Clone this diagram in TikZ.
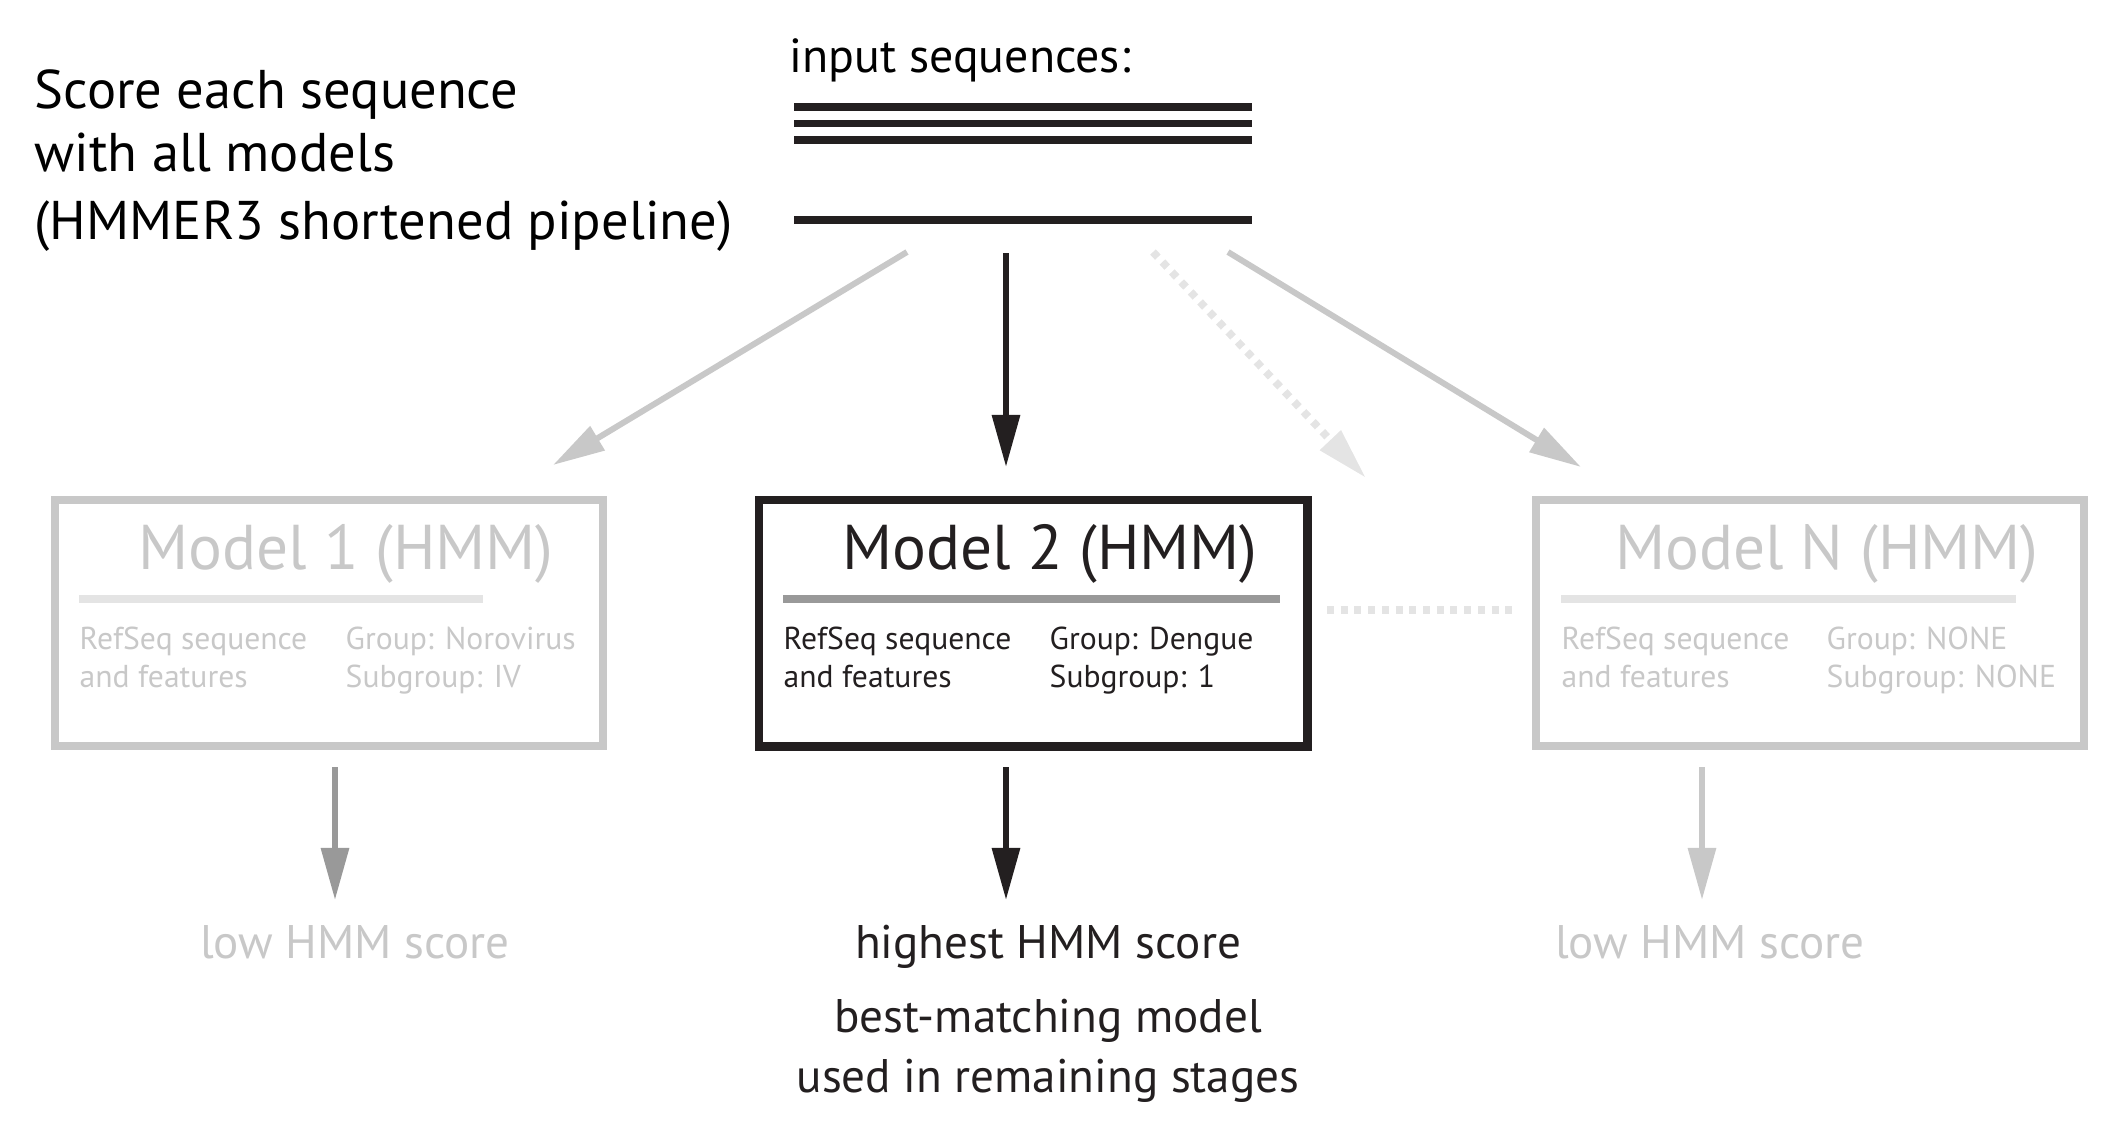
\documentclass[tikz,border=0pt]{standalone}
\usepackage{fontspec}
\setmainfont{PT Sans}
\usetikzlibrary{arrows.meta,positioning}

\definecolor{ink}{HTML}{231F20}
\definecolor{fade}{HTML}{C8C8C8}
\definecolor{faint}{HTML}{E4E4E4}
\definecolor{midgray}{HTML}{999999}

\begin{document}
\begin{tikzpicture}[x=0.01cm, y=-0.01cm,
	seqline/.style={line width=2pt, ink},
	arr/.style={line width=1.7pt, -{Triangle[length=14.8pt, width=7.7pt]}},
	dots/.style={dash pattern=on 2pt off 1.9pt, line width=2.2pt},
	modelbox/.style={draw, rectangle, inner sep=0pt, outer sep=0pt, minimum width=5.48cm, minimum height=2.46cm, anchor=north west},
	boxtitle/.style={anchor=base, inner sep=0pt, font=\fontsize{18}{21}\selectfont},
	boxtext/.style={anchor=base west, inner sep=0pt, align=left, font=\fontsize{9}{10.6}\selectfont},
	rule/.style={line width=2.2pt},
	result/.style={anchor=base, inner sep=0pt, align=center, font=\fontsize{13.4}{16.8}\selectfont}]
	\useasboundingbox (0,0) rectangle (2126,1132);
	\def\seqL{794};
	\def\seqR{1252};
	
	%heading and input (base = last line)
	\node [anchor=base west, inner sep=0pt, align=left, font=\fontsize{15.5}{17.9}\selectfont] (heading) at (34,239)
		{Score each sequence\\with all models\\[1.2pt](HMMER3 shortened pipeline)};
	\node [anchor=base west, inner sep=0pt, font=\fontsize{13.6}{16}\selectfont] (inseq) at (789,72) {input sequences:};
	\foreach \y in {107,123.5,140,220}
		\draw [seqline] (\seqL,\y) -- (\seqR,\y);
	
	%arrows into the models
	\coordinate (out1) at (907,252);
	\coordinate (out2) at (1006,253);
	\coordinate (out3) at (1153,252);
	\coordinate (outN) at (1228,252);
	\coordinate (in1) at (553,465);
	\coordinate (in2) at (1006,467);
	\coordinate (in3) at (1366,478);
	\coordinate (inN) at (1581,467);
	\draw [arr, fade] (out1) -- (in1);
	\draw [arr, ink] (out2) -- (in2);
	\draw [arr, faint, dots] (out3) -- (in3);
	\draw [arr, fade] (outN) -- (inN);
	
	%models
	\node [modelbox, fade, line width=2.2pt] (m1) at (55,500) {};
	\node [modelbox, ink, line width=2.5pt] (m2) at (759,500) {};
	\node [modelbox, fade, line width=2.2pt] (mN) at (1536,500) {};
	
	\begin{scope} [shift={(55,500)}, fade]
	\node [boxtitle] (m1title) at (291,69) {Model 1 (HMM)};
	\draw [rule, faint] (24,99) -- (428,99);
	\node [boxtext] (m1ref) at (24,187) {RefSeq sequence\\and features};
	\node [boxtext] (m1grp) at (290,187) {Group: Norovirus\\Subgroup: IV};
	\end{scope}
	
	\begin{scope} [shift={(759,500)}, ink]
	\node [boxtitle] (m2title) at (291,69) {Model 2 (HMM)};
	\draw [rule, midgray] (24,99) -- (521,99);
	\node [boxtext] (m2ref) at (24,187) {RefSeq sequence\\and features};
	\node [boxtext] (m2grp) at (290,187) {Group: Dengue\\Subgroup: 1};
	\end{scope}
	
	\begin{scope} [shift={(1536,500)}, fade]
	\node [boxtitle] (mNtitle) at (291,69) {Model N (HMM)};
	\draw [rule, faint] (25,99) -- (480,99);
	\node [boxtext] (mNref) at (25,187) {RefSeq sequence\\and features};
	\node [boxtext] (mNgrp) at (290,187) {Group: NONE\\Subgroup: NONE};
	\end{scope}
	
	\coordinate (gapL) at (1327,610);
	\coordinate (gapR) at (1519,610);
	\draw [dots, faint] (gapL) -- (gapR);
	
	%scores
	\coordinate (from1) at (335,767);
	\coordinate (to1) at (335,900);
	\coordinate (from2) at (1006,767);
	\coordinate (to2) at (1006,900);
	\coordinate (fromN) at (1702,767);
	\coordinate (toN) at (1702,900);
	\draw [arr, midgray] (from1) -- (to1);
	\draw [arr, ink] (from2) -- (to2);
	\draw [arr, fade] (fromN) -- (toN);
	
	\node [result, fade] (low1) at (355,958) {low HMM score};
	\node [result, ink] (high) at (1048,958) {highest HMM score};
	\node [result, ink] (best) at (1048,1092) {best-matching model\\used in remaining stages};
	\node [result, fade] (lowN) at (1710,958) {low HMM score};
\end{tikzpicture}
\end{document}
